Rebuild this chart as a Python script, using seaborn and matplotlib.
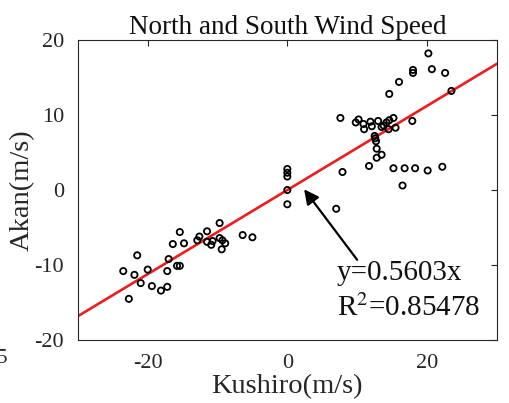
import numpy as np
import pandas as pd
import matplotlib
matplotlib.use("Agg")
import matplotlib.pyplot as plt
import seaborn as sns

# wind speed pairs (Kushiro, Akan), m/s
kushiro = [
    # negative cluster
    -23.5, -22.7, -21.9, -21.5, -21.0, -20.0, -19.4, -18.1, -17.2, -17.2,
    -17.0, -16.4, -15.8, -15.4, -15.4, -14.8, -12.9, -12.6, -11.5, -11.5,
    -10.9, -10.7, -9.7, -9.7, -9.3, -8.9, -9.4, -6.4, -5.0,
    # calm cluster
    0.0, 0.0, 0.0, 0.0, 0.0,
    # positive cluster
    7.6, 9.8, 10.2, 10.9, 11.0, 11.9, 12.1, 13.0, 13.5, 13.8,
    14.2, 14.6, 15.2, 14.5, 15.5, 17.9, 12.5, 12.6, 12.7, 12.8,
    12.8, 13.5, 11.7, 7.9, 15.2, 16.8, 18.3, 20.1, 22.2, 16.5,
    7.0, 20.2, 18.0, 18.0, 20.7, 22.6, 16.0, 14.6, 23.5,
]
akan = [
    -10.8, -14.5, -11.3, -8.7, -12.4, -10.6, -12.8, -13.4, -12.9, -10.8,
    -9.2, -7.2, -10.1, -10.1, -5.6, -7.1, -6.7, -6.2, -5.5, -6.9,
    -7.3, -6.8, -4.4, -6.4, -6.7, -7.1, -7.9, -6.0, -6.3,
    2.8, 2.3, 1.8, 0.0, -1.9,
    9.6, 9.0, 9.4, 8.8, 8.1, 9.1, 8.5, 9.2, 8.4, 8.6,
    9.0, 9.3, 9.6, 8.1, 8.3, 9.2, 7.2, 6.9, 6.5, 5.5,
    4.3, 4.7, 3.2, 2.4, 2.9, 2.9, 2.9, 2.6, 3.1, 0.6,
    -2.5, 18.2, 16.0, 15.6, 16.1, 15.6, 14.4, 12.8, 13.2,
]

slope = 0.5603
r_squared = 0.85478
x_limits = [-30, 30]
y_limits = [-20, 20]

df = pd.DataFrame({"Kushiro": kushiro, "Akan": akan})
fit = pd.DataFrame({"Kushiro": x_limits, "Akan": [slope * v for v in x_limits]})

sns.set_style("white")
plt.rcParams["font.family"] = ["Liberation Serif", "DejaVu Serif"]
plt.rcParams["mathtext.fontset"] = "stix"
plt.rcParams["axes.unicode_minus"] = False

axis_grey = "#262626"

fig = plt.figure(figsize=(5.09, 4.03), dpi=100)
ax = fig.add_axes([0.153, 0.156, 0.823, 0.745])

sns.scatterplot(data=df, x="Kushiro", y="Akan", ax=ax, marker="o", s=20,
                facecolors="none", edgecolor="black", linewidth=1.3, zorder=3)
sns.lineplot(data=fit, x="Kushiro", y="Akan", ax=ax, color="#ee1c1c",
             linewidth=1.9, zorder=2)

ax.set_xlim(x_limits)
ax.set_ylim(y_limits)
ax.set_xticks([-20, 0, 20])
ax.set_yticks([-20, -10, 0, 10, 20])
ax.tick_params(direction="in", top=True, right=True, length=4, width=0.8,
               colors=axis_grey, labelsize=16, pad=10)
for sp in ax.spines.values():
    sp.set_color(axis_grey)
    sp.set_linewidth(0.8)

ax.set_title("North and South Wind Speed", fontsize=19.5, color="#111111", pad=4)
ax.set_xlabel("Kushiro(m/s)", fontsize=20.5, color=axis_grey, labelpad=1)
ax.set_ylabel("Akan(m/s)", fontsize=20.5, color=axis_grey, labelpad=0)

ax.annotate("", xy=(2.4, 0.1), xytext=(10.0, -9.3),
            arrowprops=dict(arrowstyle="-|>", color="black", lw=1.6,
                            mutation_scale=22, shrinkA=0, shrinkB=0))
ax.text(7.1, -11.0, f"y={slope}x", fontsize=21, color="#111111", va="center")
ax.text(7.1, -15.7, f"R$^{{2}}$={r_squared}", fontsize=21, color="#111111",
        va="center")

# fragment of a neighbouring label, cut off at the left edge
fig.text(-0.006, 0.11, "5", fontsize=15, color=axis_grey, va="center")

fig.savefig("out.png", dpi=100)
